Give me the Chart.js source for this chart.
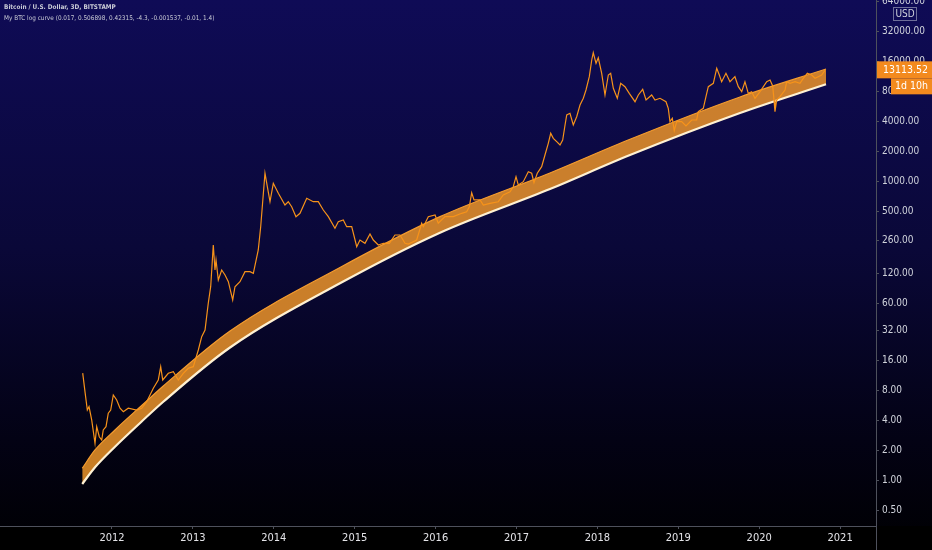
<!DOCTYPE html>
<html>
<head>
<meta charset="utf-8">
<script src="https://cdn.jsdelivr.net/npm/chart.js@4"></script>
<style>
html,body{margin:0;padding:0;background:#000;}
#c{display:block;}
</style>
</head>
<body>
<canvas id="c" width="932" height="550"></canvas>
<script>
// ---- data ----
const priceYears = [2011.638,2011.666,2011.695,2011.716,2011.749,2011.790,2011.811,2011.843,2011.873,2011.892,2011.926,2011.954,2011.984,2012.016,2012.058,2012.099,2012.140,2012.201,2012.305,2012.367,2012.429,2012.511,2012.572,2012.602,2012.627,2012.696,2012.758,2012.820,2012.881,2012.943,2013.005,2013.067,2013.109,2013.150,2013.190,2013.220,2013.252,2013.273,2013.286,2013.314,2013.356,2013.397,2013.438,2013.492,2013.520,2013.582,2013.644,2013.706,2013.747,2013.808,2013.838,2013.891,2013.920,2013.953,2013.994,2014.056,2014.138,2014.179,2014.221,2014.274,2014.324,2014.407,2014.488,2014.550,2014.612,2014.674,2014.756,2014.797,2014.859,2014.901,2014.963,2015.025,2015.065,2015.127,2015.189,2015.230,2015.292,2015.354,2015.428,2015.498,2015.560,2015.622,2015.663,2015.766,2015.828,2015.848,2015.910,2015.993,2016.033,2016.116,2016.219,2016.323,2016.384,2016.417,2016.446,2016.475,2016.549,2016.590,2016.672,2016.775,2016.837,2016.920,2016.960,2016.994,2017.022,2017.084,2017.146,2017.188,2017.216,2017.257,2017.311,2017.352,2017.393,2017.423,2017.455,2017.497,2017.538,2017.571,2017.600,2017.621,2017.661,2017.702,2017.744,2017.785,2017.826,2017.859,2017.900,2017.930,2017.949,2017.983,2018.011,2018.053,2018.094,2018.135,2018.164,2018.197,2018.246,2018.288,2018.341,2018.394,2018.465,2018.506,2018.560,2018.601,2018.671,2018.712,2018.774,2018.848,2018.876,2018.897,2018.926,2018.950,2018.980,2019.042,2019.095,2019.166,2019.227,2019.247,2019.309,2019.342,2019.371,2019.433,2019.475,2019.507,2019.536,2019.589,2019.639,2019.700,2019.742,2019.784,2019.824,2019.865,2019.907,2019.948,2020.010,2020.093,2020.134,2020.167,2020.183,2020.195,2020.216,2020.257,2020.319,2020.340,2020.381,2020.443,2020.504,2020.545,2020.595,2020.649,2020.690,2020.730,2020.772,2020.813];
const priceValues = [12.0,7.82,5.12,5.53,4.07,2.37,3.48,2.76,2.56,3.23,3.48,4.75,5.12,7.24,6.45,5.33,4.92,5.33,5.12,5.33,6.20,8.46,10.24,13.93,10.24,11.96,12.41,10.24,11.96,13.42,13.93,20.49,27.86,32.5,60.3,88.4,231.8,130.1,164,103.3,130.1,115.9,99.3,65.1,88.4,99.3,125.1,125.1,120.5,206.5,353.8,1215,891,630,964,765,584,630,561,446,482,682,630,630,520,446,341,397,413,353.8,353.8,222.9,260,241,299,260,231.8,241,241,292,292,241,237,260,383,353.8,446,463.6,383,446,446,482,500,561,776,656,656,584,607,630,736,794,891,1123,927,1001,1261,1215,978,1215,1415,1854,2430,3061,2727,2521,2337,2623,3709,4673,4861,3709,4492,5886,6872,8324,11320,16650,19700,15420,17500,12240,7417,11770,12240,8660,6872,9720,8983,7713,6352,7417,8462,6607,7417,6607,6872,6352,5455,4002,4329,3250,4002,4002,3623,4161,4161,5043,5455,7132,8983,9720,13750,11770,10085,12240,10085,11320,8983,8004,10085,7713,8004,6872,8004,10085,10490,9131,6607,5043,6607,7132,8324,10085,9720,10085,9720,10910,12240,11770,10910,11320,11770,13113.52];

const bandYears = [2011.632,2011.790,2012.037,2012.367,2012.634,2013.459,2014.818,2016.054,2017.414,2018.403,2019.763,2020.826];
const bandLower = [0.927,1.363,2.194,3.93,6.20,21.7,95.7,308,845,1854,4894,9496];
const bandUpper = [1.332,2.033,3.23,5.68,8.92,31.8,137.8,446,1224,2665,7082,13520];

const yearTicks = [2012,2013,2014,2015,2016,2017,2018,2019,2020,2021];
const priceTicks = [0.5,1,2,4,8,16,32,60,120,260,500,1000,2000,4000,8000,16000,32000,64000];

const titleLine1 = 'Bitcoin / U.S. Dollar, 3D, BITSTAMP';
const titleLine2 = 'My BTC log curve (0.017, 0.506898, 0.42315, -4.3, -0.001537, -0.01, 1.4)';
const lastPriceLabel = '13113.52';
const countdownLabel = '1d 10h';
const currencyLabel = 'USD';

// ---- build ----
const toPts = (xs, ys) => xs.map((x, i) => ({x: x, y: ys[i]}));
const FONT = "'DejaVu Sans Condensed', 'DejaVu Sans', 'Liberation Sans', sans-serif";

const bgPlugin = {
  id: 'bg',
  beforeDraw(chart) {
    const ctx = chart.ctx;
    const g = ctx.createLinearGradient(0, 0, 0, chart.height);
    g.addColorStop(0, '#0f0b56');
    g.addColorStop(0.45, '#0a0838');
    g.addColorStop(0.8, '#030214');
    g.addColorStop(1, '#000002');
    ctx.save();
    ctx.fillStyle = g;
    ctx.fillRect(0, 0, chart.width, chart.height);
    const ca = chart.chartArea;
    ctx.fillStyle = '#000000';
    ctx.fillRect(0, ca.bottom, chart.width, chart.height - ca.bottom);
    ctx.restore();
  },
  afterDraw(chart) {
    const ctx = chart.ctx;
    const ca = chart.chartArea;
    ctx.save();
    // axis lines
    ctx.strokeStyle = '#4e515c';
    ctx.lineWidth = 1;
    ctx.beginPath();
    ctx.moveTo(0, Math.round(ca.bottom) + 0.5);
    ctx.lineTo(ca.right, Math.round(ca.bottom) + 0.5);
    ctx.moveTo(Math.round(ca.right) + 0.5, 0);
    ctx.lineTo(Math.round(ca.right) + 0.5, chart.height);
    ctx.stroke();
    // title text
    ctx.fillStyle = '#c9cbd6';
    ctx.textBaseline = 'middle';
    ctx.textAlign = 'left';
    ctx.font = "bold 6.4px " + FONT;
    ctx.fillText(titleLine1, 4, 7);
    ctx.font = "6.4px " + FONT;
    ctx.fillText(titleLine2, 4, 18);
    // last price box
    const ys = chart.scales.y;
    const py = ys.getPixelForValue(priceValues[priceValues.length - 1]);
    const boxL = ca.right + 1;
    ctx.fillStyle = '#f38a1e';
    ctx.fillRect(boxL, py - 9, chart.width - boxL, 17);
    ctx.fillRect(boxL + 14, py + 8, chart.width - boxL - 14, 16);
    ctx.fillStyle = '#ffffff';
    ctx.font = "10.5px " + FONT;
    ctx.fillText(lastPriceLabel, boxL + 6, py - 0.5);
    ctx.fillText(countdownLabel, boxL + 18, py + 16);
    // currency box
    ctx.fillStyle = '#0f0b56';
    ctx.fillRect(893, 7, 24, 14);
    ctx.strokeStyle = 'rgba(190,195,210,0.55)';
    ctx.strokeRect(893.5, 7.5, 23, 13);
    ctx.fillStyle = '#d1d4dc';
    ctx.font = "10px " + FONT;
    ctx.textAlign = 'center';
    ctx.fillText(currencyLabel, 905, 14.5);
    ctx.restore();
  }
};

new Chart(document.getElementById('c'), {
  type: 'line',
  data: {
    datasets: [
      {
        label: 'BTCUSD',
        data: toPts(priceYears, priceValues),
        borderColor: '#f7931a',
        borderWidth: 1.2,
        pointRadius: 0,
        tension: 0,
        fill: false
      },
      {
        label: 'curve low',
        data: toPts(bandYears, bandLower),
        borderColor: '#fff1d2',
        borderWidth: 2.2,
        pointRadius: 0,
        cubicInterpolationMode: 'monotone',
        fill: false
      },
      {
        label: 'curve high',
        data: toPts(bandYears, bandUpper),
        borderColor: '#f59c2e',
        borderWidth: 1.2,
        backgroundColor: 'rgba(240,150,40,0.84)',
        pointRadius: 0,
        cubicInterpolationMode: 'monotone',
        fill: 1
      }
    ]
  },
  options: {
    responsive: false,
    animation: false,
    events: [],
    layout: {padding: 0},
    plugins: {legend: {display: false}, tooltip: {enabled: false}, title: {display: false}},
    scales: {
      x: {
        type: 'linear',
        min: 2010.6156,
        max: 2021.4438,
        afterBuildTicks(scale) { scale.ticks = yearTicks.map(v => ({value: v})); },
        afterFit(scale) { scale.height = 24; scale.paddingLeft = 0; scale.paddingRight = 0; },
        grid: {display: true, drawOnChartArea: false, drawTicks: true, tickLength: 3, color: '#4e515c'},
        border: {display: false},
        ticks: {
          color: '#e4e4e8',
          font: {family: FONT, size: 11},
          padding: 3,
          maxRotation: 0,
          autoSkip: false,
          callback: v => String(v)
        }
      },
      y: {
        type: 'logarithmic',
        position: 'right',
        min: 0.351,
        max: 66600,
        afterBuildTicks(scale) { scale.ticks = priceTicks.map(v => ({value: v})); },
        afterFit(scale) { scale.width = 56; scale.paddingTop = 0; scale.paddingBottom = 0; },
        grid: {display: true, drawOnChartArea: false, drawTicks: true, tickLength: 3, color: '#4e515c'},
        border: {display: false},
        ticks: {
          color: '#d1d4dc',
          font: {family: FONT, size: 10},
          padding: 3,
          autoSkip: false,
          callback: v => Number(v).toFixed(2)
        }
      }
    }
  },
  plugins: [bgPlugin]
});
</script>
</body>
</html>
